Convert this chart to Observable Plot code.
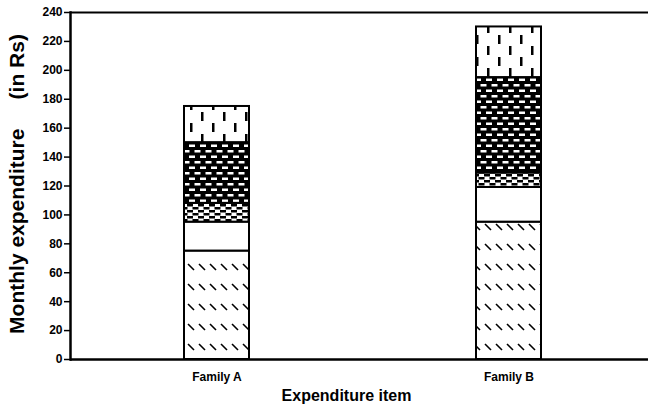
<!DOCTYPE html>
<html><head><meta charset="utf-8">
<script src="https://cdn.jsdelivr.net/npm/d3@7"></script>
<script src="https://cdn.jsdelivr.net/npm/@observablehq/plot@0.6"></script>
<style>body{margin:0;background:#fff;} svg{display:block}</style>
</head><body><div id="chart"></div>
<script>
const families = ["Family A", "Family B"];
const items = ["Food", "Clothing", "Education", "Rent", "Others"];
const familyA = [75, 20, 13, 42, 25];
const familyB = [95, 24, 10, 66, 35];
const yTicks = [0, 20, 40, 60, 80, 100, 120, 140, 160, 180, 200, 220, 240];
const xTitle = "Expenditure item";
const yTitle = "Monthly expenditure\u00a0\u00a0\u00a0\u00a0\u00a0(in Rs)";
const patternIds = ["patFood", "patClothing", "patEducation", "patRent", "patOthers"];

const data = [];
families.forEach((f, fi) => {
  const vals = fi === 0 ? familyA : familyB;
  items.forEach((it, i) => data.push({family: f, item: it, value: vals[i]}));
});

const font = "'Liberation Sans', Arial, sans-serif";
const chart = Plot.plot({
  width: 648, height: 404,
  marginLeft: 70, marginRight: 0, marginTop: 12, marginBottom: 45,
  style: {fontFamily: font, fontWeight: "bold", background: "#fff", color: "#000"},
  x: {domain: families, paddingInner: 0.778, paddingOuter: 0.378, align: 0.517, label: null},
  y: {domain: [0, 240], label: null},
  color: {domain: items, range: patternIds.map(id => `url(#${id})`)},
  marks: [
    Plot.barY(data, Plot.stackY({x: "family", y: "value", fill: "item", stroke: "black", strokeWidth: 2})),
    Plot.ruleY([240], {stroke: "black", strokeWidth: 2}),
    Plot.ruleY([0], {stroke: "black", strokeWidth: 2.5}),
    Plot.frame({anchor: "left", stroke: "black", strokeWidth: 2.5}),
    Plot.axisY({ticks: yTicks, tickSize: 6, tickPadding: 2, fontSize: 12, fontWeight: "bold", label: null, strokeWidth: 1.5}),
    Plot.axisX({tickSize: 0, tickPadding: 13, fontSize: 12, fontWeight: "bold", label: null}),
    Plot.text([xTitle], {frameAnchor: "bottom", textAnchor: "middle", lineAnchor: "middle", dy: 36, dx: -13, fontSize: 16, fontWeight: "bold"}),
    Plot.text([yTitle], {frameAnchor: "left", textAnchor: "middle", lineAnchor: "middle", rotate: -90, dx: -53, dy: -2, fontSize: 21, fontWeight: "bold"})
  ]
});

const svg = d3.select(chart);
const defs = svg.insert("defs", ":first-child");
// Food: diagonal short dashes
let p = defs.append("pattern").attr("id", "patFood").attr("patternUnits", "userSpaceOnUse").attr("width", 11).attr("height", 20);
p.append("rect").attr("width", 11).attr("height", 20).attr("fill", "white");
p.append("path").attr("d", "M1,4 L7,10").attr("stroke", "black").attr("stroke-width", 1.6);
// Clothing: plain white
p = defs.append("pattern").attr("id", "patClothing").attr("patternUnits", "userSpaceOnUse").attr("width", 10).attr("height", 10);
p.append("rect").attr("width", 10).attr("height", 10).attr("fill", "white");
// Education: black dashes on white
p = defs.append("pattern").attr("id", "patEducation").attr("patternUnits", "userSpaceOnUse").attr("width", 11).attr("height", 6);
p.append("rect").attr("width", 11).attr("height", 6).attr("fill", "white");
p.append("rect").attr("x", 0).attr("y", 0).attr("width", 6).attr("height", 2.5).attr("fill", "black");
p.append("rect").attr("x", 5.5).attr("y", 3).attr("width", 5.5).attr("height", 2.5).attr("fill", "black");
p.append("rect").attr("x", 0).attr("y", 3).attr("width", 0.5).attr("height", 2.5).attr("fill", "black");
// Rent: white dashes on black
p = defs.append("pattern").attr("id", "patRent").attr("patternUnits", "userSpaceOnUse").attr("width", 11).attr("height", 11);
p.append("rect").attr("width", 11).attr("height", 11).attr("fill", "black");
p.append("rect").attr("x", 2).attr("y", 1.5).attr("width", 6).attr("height", 2.5).attr("fill", "white");
p.append("rect").attr("x", 7.5).attr("y", 7).attr("width", 3.5).attr("height", 2.5).attr("fill", "white");
p.append("rect").attr("x", 0).attr("y", 7).attr("width", 2.5).attr("height", 2.5).attr("fill", "white");
// Others: vertical dashes on white
p = defs.append("pattern").attr("id", "patOthers").attr("patternUnits", "userSpaceOnUse").attr("width", 22).attr("height", 22);
p.append("rect").attr("width", 22).attr("height", 22).attr("fill", "white");
p.append("rect").attr("x", 3).attr("y", 2).attr("width", 2.5).attr("height", 9).attr("fill", "black");
p.append("rect").attr("x", 14).attr("y", 13).attr("width", 2.5).attr("height", 9).attr("fill", "black");

document.getElementById("chart").appendChild(chart);
</script>
</body></html>
